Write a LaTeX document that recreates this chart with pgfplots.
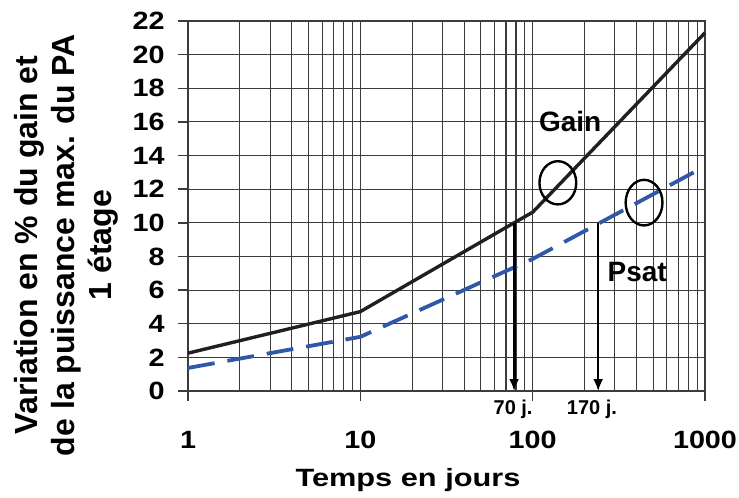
\documentclass[border=0pt]{standalone}
\usepackage{fontspec}
\setmainfont{Liberation Sans}
\newfontfamily\wideA{Liberation Sans}[FakeStretch=1.15]
\newfontfamily\wideB{Liberation Sans}[FakeStretch=1.23]
\usepackage{pgfplots}
\pgfplotsset{compat=1.18}
\usetikzlibrary{arrows.meta}
\definecolor{gridc}{RGB}{60,60,60}
\definecolor{gainc}{RGB}{35,31,32}
\definecolor{psatc}{RGB}{47,88,168}
\begin{document}
\begin{tikzpicture}
\begin{axis}[
  scale only axis, width=258.5pt, height=185pt,
  xmode=log, xmin=1, xmax=1000, ymin=0, ymax=22,
  xtick={1,10,100,1000}, xticklabels={1,10,100,1000},
  ytick={0,2,4,6,8,10,12,14,16,18,20,22},
  yticklabels={0,2,4,6,8,10,12,14,16,18,20,22},
  grid=both,
  major grid style={draw=gridc, line width=0.55pt},
  minor grid style={draw=gridc, line width=0.55pt},
  axis line style={draw=gridc, line width=0.7pt},
  tick style={draw=gridc, line width=0.7pt},
  major tick length=5pt, minor tick length=0pt, tick align=outside,
  xtick pos=bottom, ytick pos=left,
  clip=false,
  xticklabel style={font=\fontsize{12.5}{14}\selectfont\wideA\bfseries, anchor=base, inner sep=0pt, yshift=-23.5pt},
  yticklabel style={font=\fontsize{12.5}{14}\selectfont\wideA\bfseries, anchor=east, inner sep=0pt, xshift=-6.5pt},
]
\addplot[draw=gainc, line width=1.7pt] coordinates {(1,2.25) (10,4.72) (78,10.0) (100,10.63) (1000,21.3)};
\addplot[draw=psatc, line width=1.9pt, dash pattern=on 13.5pt off 6.5pt] coordinates {(1,1.37) (10,3.22) (100,7.85) (1000,13.36)};
\addplot[draw=black, line width=1.5pt, -{Latex[length=6pt,width=5pt]}] coordinates {(78,10) (78,0)};
\addplot[draw=black, line width=1pt, -{Latex[length=6pt,width=5pt]}] coordinates {(240,10) (240,0)};
\draw[black, line width=1.2pt] (axis cs:140,12.38) ellipse [x radius=9.2pt, y radius=10.8pt];
\draw[black, line width=1.2pt] (axis cs:443,11.2) ellipse [x radius=9.2pt, y radius=11.4pt];
\node[font=\fontsize{14}{16}\selectfont\bfseries] at (axis cs:165,16.0) {Gain};
\node[font=\fontsize{14}{16}\selectfont\bfseries] at (axis cs:404,7.06) {Psat};
\node[font=\fontsize{10}{12}\selectfont\bfseries] at (axis cs:77,-1.07) {70 j.};
\node[font=\fontsize{10}{12}\selectfont\bfseries] at (axis cs:221,-1.07) {170 j.};
\end{axis}
\node[rotate=90, align=center, font=\fontsize{16}{18.5}\selectfont\bfseries] at ([shift={(-61pt,73pt)}]current axis.south west) {Variation en \% du gain et\\de la puissance max. du PA\\1 étage};
\node[anchor=base, font=\fontsize{12.5}{14}\selectfont\wideB\bfseries] at ([shift={(110pt,-47.5pt)}]current axis.south west) {Temps en jours};
\path ([shift={(-94pt,-53.5pt)}]current axis.south west) rectangle ([shift={(17pt,10.5pt)}]current axis.north east);
\end{tikzpicture}
\end{document}
